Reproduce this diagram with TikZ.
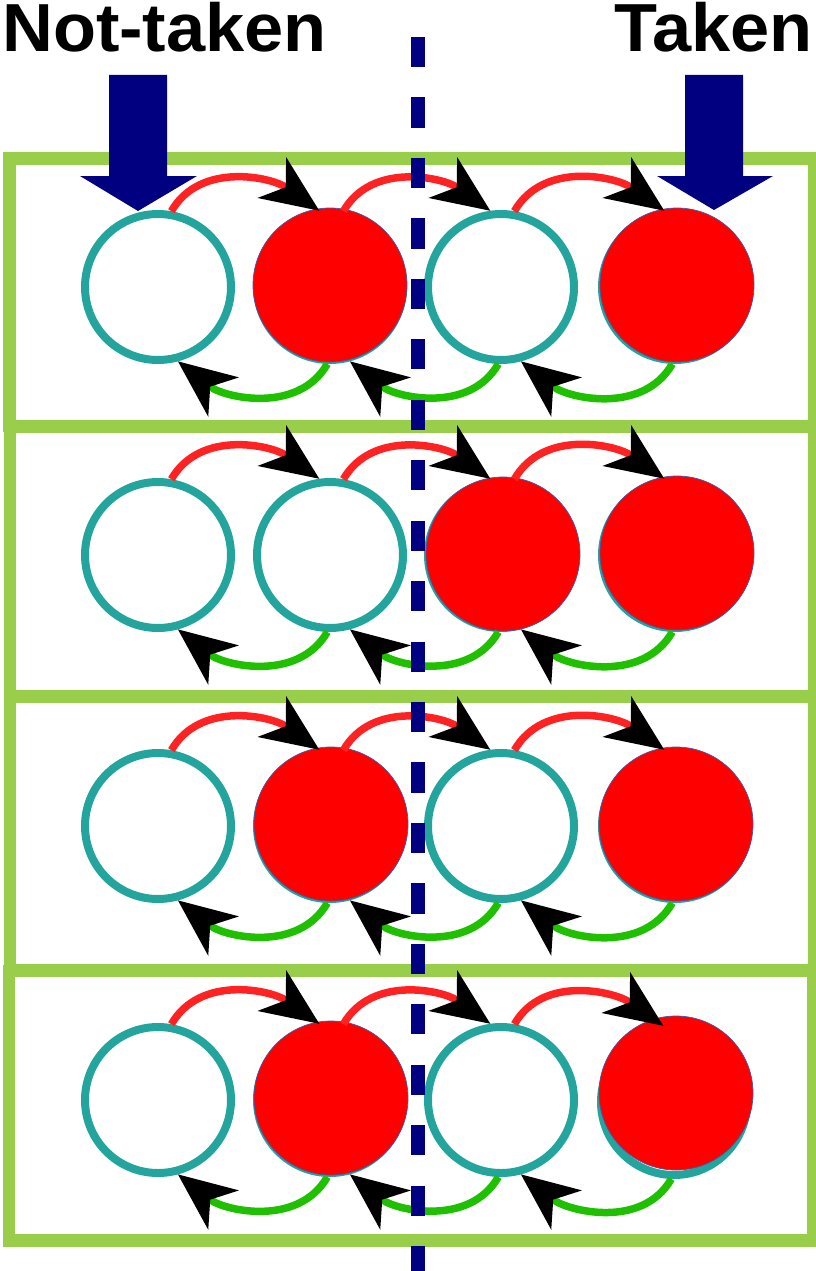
\documentclass[tikz,border=0pt]{standalone}
\usepackage{fontspec}
\usepackage{graphicx}
\newfontfamily\headfont{Liberation Sans}
\usetikzlibrary{arrows.meta}

\definecolor{panelgreen}{RGB}{153,206,75}
\definecolor{ringteal}{RGB}{35,164,156}
\definecolor{arcred}{RGB}{255,34,34}
\definecolor{arcgreen}{RGB}{30,192,0}
\definecolor{navyblue}{RGB}{0,0,128}
\definecolor{diskedge}{RGB}{60,90,170}

\newcommand{\widehead}[1]{\scalebox{1.035}[1]{#1}}

\tikzset{
  panel/.style={draw=panelgreen, line width=12.5pt},
  ring/.style={circle, draw=ringteal, fill=white, line width=8pt,
    minimum size=146pt, inner sep=0pt},
  disk/.style={circle, fill=red, draw=diskedge, line width=0.7pt,
    minimum size=154pt, inner sep=0pt},
  bigtip/.tip={Stealth[length=58pt, width=50pt, inset=17pt, color=black, line width=0pt]},
  fwd/.style={draw=arcred, line width=7.5pt, -bigtip},
  bwd/.style={draw=arcgreen, line width=7.5pt, -bigtip},
  blockarrow/.style={fill=navyblue},
  divider/.style={draw=navyblue, line width=14pt, dash pattern=on 30.2pt off 30.25pt},
  lbl/.style={inner sep=0pt, font=\headfont\bfseries\fontsize{68}{68}\selectfont}
}

\begin{document}
\begin{tikzpicture}[x=1pt, y=1pt]
\useasboundingbox (0,0) rectangle (816,-1271);

% the four state panels
\draw[panel] (9.5,-158.5) rectangle (814,-426);
\draw[panel] (10,-427) rectangle (814,-696);
\draw[panel] (10,-697) rectangle (814,-970);
\draw[panel] (9,-971) rectangle (813,-1240.5);

% predictor states: four rings per panel
\foreach \p/\y in {1/287,2/555,3/826,4/1100}
  \foreach \i/\x in {1/158,2/330,3/501}
    \node[ring] (p\p c\i) at (\x,-\y) {};
\node[ring] (p1c4) at (675,-287) {};
\node[ring] (p2c4) at (675,-555) {};
\node[ring] (p3c4) at (675,-826) {};
\node[ring] (p4c4) at (674,-1102) {};

% filled (current) states
\node[disk] (p1d2) at ([shift={(0pt,2pt)}]p1c2) {};
\node[disk] (p1d4) at ([shift={(2pt,2pt)}]p1c4) {};
\node[disk] (p2d3) at ([shift={(2pt,1pt)}]p2c3) {};
\node[disk] (p2d4) at ([shift={(2pt,2pt)}]p2c4) {};
\node[disk] (p3d2) at ([shift={(1pt,2pt)}]p3c2) {};
\node[disk] (p3d4) at ([shift={(1pt,2pt)}]p3c4) {};
\node[disk] (p4d2) at ([shift={(1pt,2pt)}]p4c2) {};
\node[disk] (p4d4) at ([shift={(2pt,9pt)}]p4c4) {};

% transitions: taken (top, red) and not-taken (bottom, green)
\foreach \p in {1,2,3,4}
  \foreach \i/\j in {1/2,2/3,3/4} {
    \draw[fwd] (p\p c\i.80) to[out=60, in=145] (p\p c\j.98);
    \draw[bwd] (p\p c\j.268) to[out=240, in=-38] (p\p c\i.285);
  }

% entry arrows
\fill[blockarrow] (109,-75) -- (167,-75) -- (167,-176) -- (197,-176)
  -- (138,-211) -- (80,-176) -- (109,-176) -- cycle;
\fill[blockarrow] (685,-75) -- (743,-75) -- (743,-176) -- (773,-176)
  -- (714,-210) -- (657,-176) -- (685,-176) -- cycle;

% dividing line
\coordinate (dtop) at (418,-37);
\coordinate (dbot) at (418,-1271);
\draw[divider] (dtop) -- (dbot);

% headings
\node[lbl, anchor=base west] (nottaken) at (2,-52) {\widehead{Not-taken}};
\node[lbl, anchor=base east] (taken) at (813,-51.5) {\widehead{Taken}};
\end{tikzpicture}
\end{document}
